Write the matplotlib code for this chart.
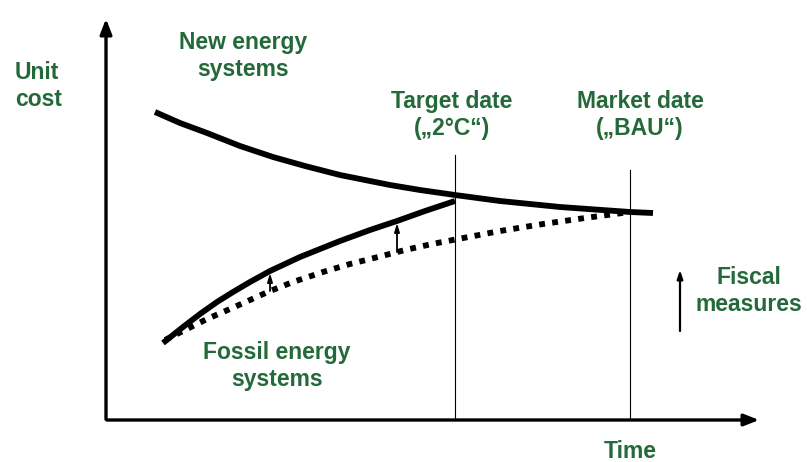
import numpy as np
import matplotlib.pyplot as plt

plt.rcParams['font.family'] = ['Liberation Sans', 'DejaVu Sans']

# curve samples (time, unit cost), in drawing units
new_t = [155, 180, 207, 240, 273, 305, 340, 390, 420, 455, 500, 560, 630, 653]
new_c = [112, 123, 133, 146, 157, 166, 175, 185, 190, 195, 201, 207, 212, 213]

fossil_t = [163, 183, 200, 217, 233, 250, 270, 300, 340, 370, 397, 425, 455]
fossil_c = [343, 327, 314, 302, 292, 282, 271, 257, 241, 230, 221, 211, 201]

bau_t = [165, 185, 207, 230, 250, 270, 293, 323, 350, 378, 405, 432, 458, 500, 543, 585, 630]
bau_c = [340, 330, 319, 309, 300, 291, 282, 272, 264, 257, 250, 244, 239, 231, 224, 218, 212]

target_t = 455
market_t = 630
lift_t = [270, 397]

green = '#24693a'

fig = plt.figure(figsize=(8.07, 4.62), dpi=100)
ax = fig.add_axes([0, 0, 1, 1])
ax.set_xlim(0, 807)
ax.set_ylim(462, 0)
ax.axis('off')

# axes arrows
ax.annotate('', xy=(106, 16), xytext=(106, 422),
            arrowprops=dict(arrowstyle='-|>,head_length=0.9,head_width=0.35', lw=2.4, color='black'))
ax.annotate('', xy=(762, 420), xytext=(104, 420),
            arrowprops=dict(arrowstyle='-|>,head_length=0.9,head_width=0.35', lw=2.4, color='black'))

# date lines
ax.plot([target_t, target_t], [155, 420], color='black', lw=0.8)
ax.plot([market_t, market_t], [170, 420], color='black', lw=0.8)

ax.plot(new_t, new_c, color='black', lw=4.2, solid_capstyle='butt', solid_joinstyle='round')
ax.plot(fossil_t, fossil_c, color='black', lw=4.2, solid_capstyle='butt', solid_joinstyle='round')
ax.plot(bau_t, bau_c, color='black', lw=4.2, linestyle=(0, (1, 1.25)), dash_capstyle='butt')

# small lift arrows between BAU and taxed fossil curve
for t in lift_t:
    lo = np.interp(t, bau_t, bau_c)
    hi = np.interp(t, fossil_t, fossil_c) + 2
    ax.annotate('', xy=(t, hi), xytext=(t, lo),
                arrowprops=dict(arrowstyle='-|>,head_length=0.5,head_width=0.15', lw=1.3, color='black',
                                shrinkA=0, shrinkB=0))

ax.annotate('', xy=(680, 270), xytext=(680, 331),
            arrowprops=dict(arrowstyle='-|>,head_length=0.5,head_width=0.17', lw=1.6, color='black',
                            shrinkA=0, shrinkB=0))

fs = 16.5
kw = dict(color=green, fontsize=fs, fontweight='bold', linespacing=1.22)
ax.text(243, 56, 'New energy\nsystems', ha='center', va='center', **kw)
ax.text(15, 86, 'Unit\ncost', ha='left', va='center', **kw)
ax.text(452, 115, 'Target date\n(\u201e2°C\u201c)', ha='center', va='center', **kw)
ax.text(640, 115, 'Market date\n(\u201eBAU\u201c)', ha='center', va='center', **kw)
ax.text(749, 291, 'Fiscal\nmeasures', ha='center', va='center', **kw)
ax.text(277, 366, 'Fossil energy\nsystems', ha='center', va='center', **kw)
ax.text(630, 452, 'Time', ha='center', va='center', **kw)

fig.savefig('out.png', dpi=100)
